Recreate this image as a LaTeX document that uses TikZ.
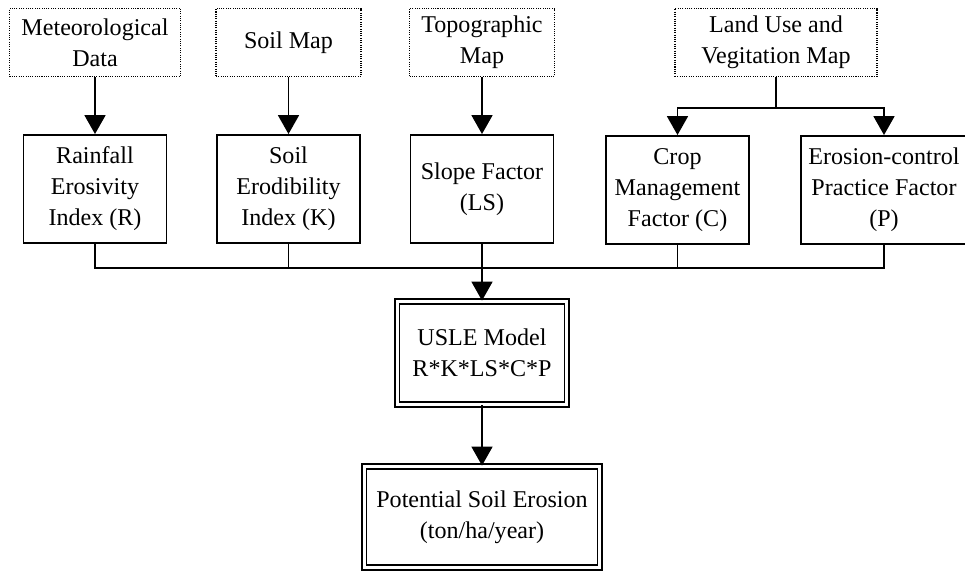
\documentclass[tikz,border=0pt]{standalone}
\usepackage{fontspec}
\setmainfont{Liberation Serif}
\usetikzlibrary{arrows.meta,positioning}

\begin{document}
\begin{tikzpicture}[
        x=0.02cm,y=-0.02cm,
        every node/.style={font=\fontsize{13.7}{17.6}\selectfont,align=center,inner sep=0pt},
        source/.style={draw,line width=0.6pt,dash pattern=on 0.6pt off 0.7pt,
          minimum height=1.36cm},
        factor/.style={draw,line width=1.1pt,minimum width=2.86cm,minimum height=2.16cm},
        model/.style={draw,line width=1.1pt,double,double distance=1.7pt},
        conn/.style={line width=1.1pt},
        arr/.style={conn,-{Triangle[length=0.38cm,width=0.42cm]}}
      ]
        \useasboundingbox (0,0) rectangle (965,572);
        % data sources
        \node[source,minimum width=3.42cm] (met) at (95,42.5) {Meteorological\\Data};
        \node[source,minimum width=2.9cm] (soilmap) at (288.5,42.5) {Soil Map};
        \node[source,minimum width=2.9cm] (topo) at (482,42.5) {Topographic\\Map};
        \node[source,minimum width=4.04cm] (landuse) at (776,42.5) {Land Use and\\Vegitation Map};
        % factors
        \node[factor] (rain) at (95,189) {Rainfall\\Erosivity\\Index (R)};
        \node[factor] (erod) at (288.5,189) {Soil\\Erodibility\\Index (K)};
        \node[factor] (slope) at (482,189) {Slope Factor\\(LS)};
        \node[factor] (crop) at (677.5,190) {Crop\\Management\\Factor (C)};
        \node[factor,minimum width=3.32cm] (prac) at (884,190) {Erosion-control\\Practice Factor\\(P)};
        % model and result
        \node[model,minimum width=3.4cm,minimum height=2.06cm] (usle) at (482,353) {USLE Model\\R*K*LS*C*P};
        \node[model,minimum width=4.72cm,minimum height=2.02cm] (pse) at (482,517) {Potential Soil Erosion\\(ton/ha/year)};
        \coordinate (split) at (776,108);
        \coordinate (bus) at (482,268);
        \draw[arr] (met) -- (rain);
        \draw[arr] (soilmap) -- (erod);
        \draw[arr] (topo) -- (slope);
        \draw[conn] (landuse) -- (split);
        \draw[arr] (split) -| (crop.north);
        \draw[arr] (split) -| (prac.north);
        \draw[conn] (rain.south) |- (bus) -| (prac.south);
        \draw[conn] (erod.south) -- (erod.south |- bus);
        \draw[conn] (crop.south) -- (crop.south |- bus);
        \draw[arr] (slope) -- (usle);
        \draw[arr] (usle) -- (pse);
      \end{tikzpicture}
\end{document}
